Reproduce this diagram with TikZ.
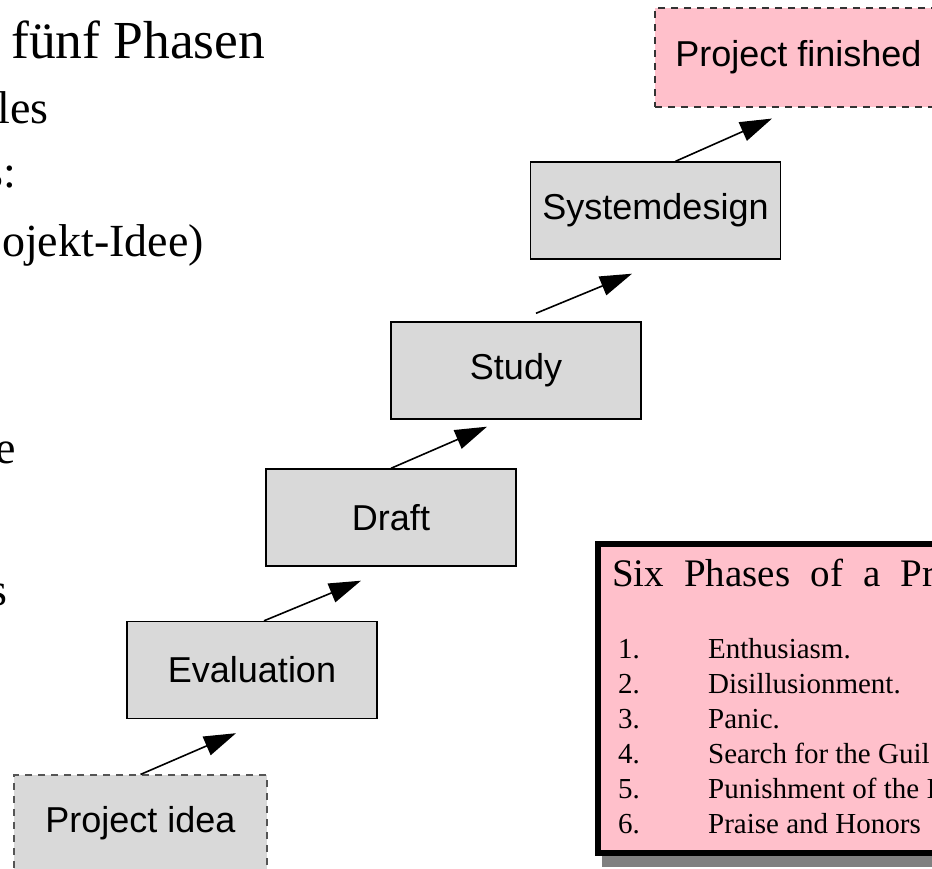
\documentclass[tikz,border=0pt]{standalone}
\usepackage{fontspec}
\setmainfont{Liberation Serif}
\newfontfamily\sansf{Liberation Sans}
\usetikzlibrary{arrows.meta,calc}
\definecolor{boxgray}{HTML}{D9D9D9}
\definecolor{pinkfill}{HTML}{FFC0CB}
\definecolor{dashgray}{HTML}{555555}
\definecolor{dashdark}{HTML}{333333}
\definecolor{shadowgray}{HTML}{808080}
\tikzset{
  stage/.style={draw=black, line width=1.4pt, fill=boxgray, minimum width=250pt, minimum height=97pt,
    inner sep=0pt, font=\sansf\fontsize{36}{40}\selectfont},
  startbox/.style={draw=dashgray, line width=1.1pt, dash pattern=on 7pt off 6pt, fill=boxgray,
    minimum width=253pt, minimum height=97pt, inner sep=0pt, font=\sansf\fontsize{36}{40}\selectfont},
  endbox/.style={draw=dashdark, line width=1.1pt, dash pattern=on 7pt off 6pt, fill=pinkfill,
    minimum width=287pt, minimum height=99pt, inner sep=0pt, font=\sansf\fontsize{36}{40}\selectfont},
  arr/.style={line width=1.6pt, -{Triangle[length=32pt,width=20pt]}},
  slidetext/.style={inner sep=0pt, font=\fontsize{46}{52}\selectfont},
}
\begin{document}
\begin{tikzpicture}[x=1pt,y=-1pt]
\useasboundingbox (0,0) rectangle (932,868);
\clip (0,0) rectangle (932,868);
% left slide text (cropped)
\node[slidetext, anchor=base west, font=\fontsize{53.5}{60}\selectfont] (t1) at (11,58) {fünf Phasen};
\node[slidetext, anchor=base east] (t2) at (49,123) {les};
\node[slidetext, anchor=base east] (t3) at (16,187) {s:};
\node[slidetext, anchor=base east] (t4) at (204,256) {ojekt-Idee)};
\node[slidetext, anchor=base east] (t5) at (16,463) {e};
\node[slidetext, anchor=base east] (t6) at (8,605) {s};
% stages
\node[startbox] (pi) at (140.5,823.5) {Project idea};
\node[stage] (ev) at (252,670) {Evaluation};
\node[stage] (dr) at (391,517.5) {Draft};
\node[stage] (st) at (516,370.5) {Study};
\node[stage] (sy) at (655.5,210.5) {Systemdesign};
\node[endbox] (pf) at (798.5,57.5) {Project finished};
% arrows
\draw[arr] (pi.north) -- ($(ev.south)+(-16,14)$);
\draw[arr] ($(ev.north)+(12,0)$) -- ($(dr.south)+(-30,14)$);
\draw[arr] (dr.north) -- ($(st.south)+(-29,7)$);
\draw[arr] ($(st.north)+(20,-8)$) -- ($(sy.south)+(-23.5,14)$);
\draw[arr] ($(sy.north)+(20,0)$) -- ($(pf.south)+(-26.5,11)$);
% six phases box
\node[fill=shadowgray, inner sep=0pt, minimum width=360pt, minimum height=316pt, anchor=north west] (shadow) at (602,551) {};
\node[draw=black, line width=6pt, fill=pinkfill, inner sep=0pt, minimum width=360pt, minimum height=309.5pt, anchor=north west] (phases) at (595,540.5) {};
\node[inner sep=0pt, anchor=base west, font=\fontsize{39}{45}\selectfont] (title) at (612,586)
  {\hbox to 323pt{Six\hfill Phases\hfill of\hfill a\hfill Pr}};
\node[inner sep=0pt, anchor=base west, font=\fontsize{29}{35}\selectfont] (list) at (618,658)
  {\begin{tabular}[t]{@{}p{90pt}@{}l@{}}
   1. & Enthusiasm.\\
   2. & Disillusionment.\\
   3. & Panic.\\
   4. & Search for the Guil\\
   5. & Punishment of the I\\
   6. & Praise and Honors
   \end{tabular}};
\end{tikzpicture}
\end{document}
